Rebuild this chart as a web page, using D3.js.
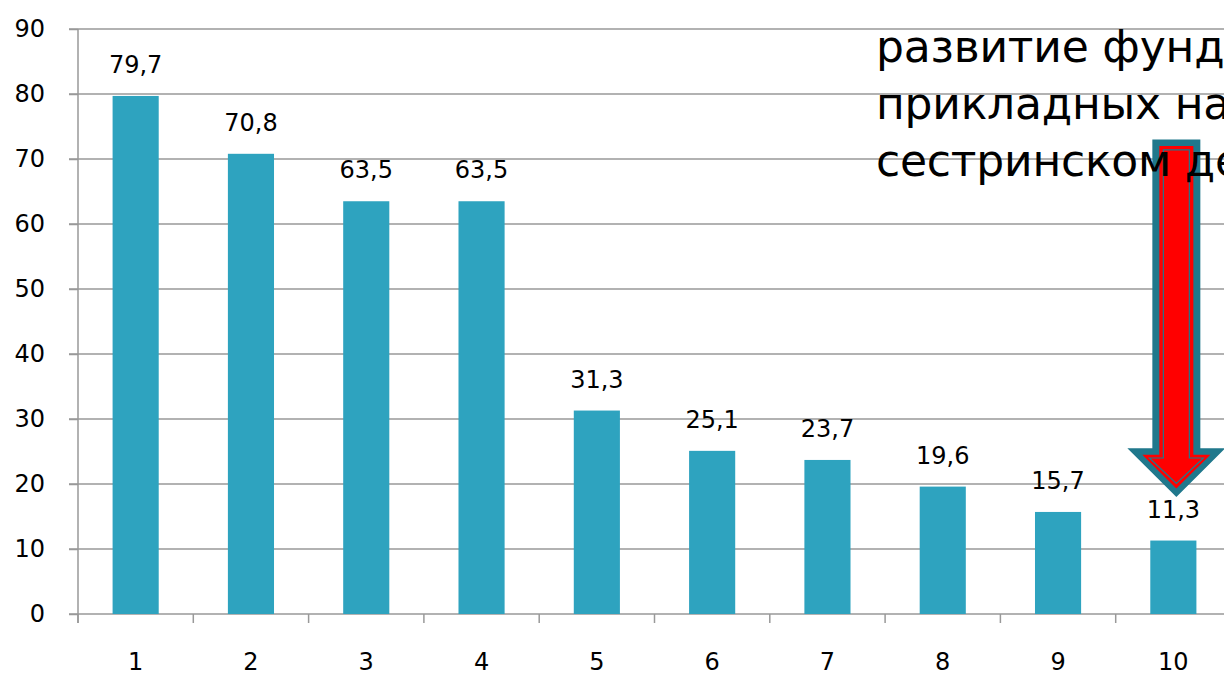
<!DOCTYPE html>
<html>
<head>
<meta charset="utf-8">
<script src="https://cdn.jsdelivr.net/npm/d3@7"></script>
<style>
  body { margin: 0; background: #fff; overflow: hidden; }
  svg { display: block; font-family: "DejaVu Sans", sans-serif; }
</style>
</head>
<body>
<svg></svg>
<script>
// data
var categories = ["1", "2", "3", "4", "5", "6", "7", "8", "9", "10"];
var values = [79.7, 70.8, 63.5, 63.5, 31.3, 25.1, 23.7, 19.6, 15.7, 11.3];
var yTicks = [0, 10, 20, 30, 40, 50, 60, 70, 80, 90];
var titleLines = ["развитие фундаментальных и", "прикладных научных исследований в", "сестринском деле"];

var width = 1224;
var height = 676;
var left = 78;
var top_ = 29;
var bottom = 614;
var step = 115.3;

var svg = d3.select('svg')
	.attr('width', width)
	.attr('height', height);

var xScale = d3.scaleBand()
	.domain(categories)
	.range([left, left + step * categories.length])
	.paddingInner(0.6)
	.paddingOuter(0.3);

var yScale = d3.scaleLinear()
	.domain([0, 90])
	.range([bottom, top_]);

var fmt = function(v){ return String(v).replace('.', ','); };

// gridlines
svg.append('g')
	.selectAll('line')
	.data(yTicks)
	.enter()
	.append('line')
	.attr('x1', left - 9)
	.attr('x2', width)
	.attr('y1', d => yScale(d))
	.attr('y2', d => yScale(d))
	.attr('stroke', '#999')
	.attr('stroke-width', 1.5);

// y axis
var yAxis = svg.append('g')
	.attr('transform', 'translate(' + left + ',0)')
	.call(d3.axisLeft(yScale).tickValues(yTicks).tickSize(9).tickPadding(24));
yAxis.select('.domain').remove();
yAxis.selectAll('line').attr('stroke', '#999').attr('stroke-width', 1.5);
yAxis.selectAll('text')
	.attr('font-family', '"DejaVu Sans", sans-serif')
	.attr('font-size', 24)
	.attr('fill', '#000');

svg.append('line')
	.attr('x1', left).attr('x2', left)
	.attr('y1', yScale(90)).attr('y2', bottom + 9)
	.attr('stroke', '#999')
	.attr('stroke-width', 1.5);

// x ticks at category boundaries
var boundaries = d3.range(categories.length + 1).map(i => left + i * xScale.step());
svg.append('g')
	.selectAll('line')
	.data(boundaries)
	.enter()
	.append('line')
	.attr('x1', d => d).attr('x2', d => d)
	.attr('y1', bottom).attr('y2', bottom + 9)
	.attr('stroke', '#999')
	.attr('stroke-width', 1.5);

svg.append('g')
	.selectAll('text')
	.data(categories)
	.enter()
	.append('text')
	.attr('x', d => xScale(d) + xScale.bandwidth() / 2)
	.attr('y', 670)
	.attr('text-anchor', 'middle')
	.attr('font-size', 24)
	.text(d => d);

// bars
svg.append('g')
	.selectAll('rect')
	.data(values)
	.enter()
	.append('rect')
	.attr('x', (d, i) => xScale(categories[i]))
	.attr('y', d => yScale(d))
	.attr('width', xScale.bandwidth())
	.attr('height', d => bottom - yScale(d))
	.attr('fill', '#2ea3bf');

// value labels
svg.append('g')
	.selectAll('text')
	.data(values)
	.enter()
	.append('text')
	.attr('x', (d, i) => xScale(categories[i]) + xScale.bandwidth() / 2)
	.attr('y', d => yScale(d) - 23)
	.attr('text-anchor', 'middle')
	.attr('font-size', 24)
	.text(d => fmt(d));

// arrow over last bar
var cx = xScale("10") + xScale.bandwidth() / 2 + 3;
var arrow = function(halfShaft, halfHead, yTop, yHead, yTip){
	return [[cx - halfShaft, yTop], [cx + halfShaft, yTop], [cx + halfShaft, yHead],
		[cx + halfHead, yHead], [cx, yTip], [cx - halfHead, yHead], [cx - halfShaft, yHead]];
};
var line = d3.line();
svg.append('path')
	.attr('d', line(arrow(24, 49, yScale(73), yScale(25.5), yScale(18))) + 'Z')
	.attr('fill', '#20788c');
svg.append('path')
	.attr('d', line(arrow(17, 34, yScale(72), yScale(24.5), yScale(19.3))) + 'Z')
	.attr('fill', '#ff0000');
svg.append('path')
	.attr('d', line(arrow(13, 27, yScale(71.4), yScale(24), yScale(20.1))) + 'Z')
	.attr('fill', 'none')
	.attr('stroke', '#20788c')
	.attr('stroke-width', 1.2);

// title text on top (clipped by the page edge)
svg.append('g')
	.selectAll('text')
	.data(titleLines)
	.enter()
	.append('text')
	.attr('x', 876)
	.attr('y', (d, i) => 62 + i * 57)
	.attr('font-size', 44)
	.attr('letter-spacing', -0.2)
	.attr('fill', '#000')
	.text(d => d);
</script>
</body>
</html>
